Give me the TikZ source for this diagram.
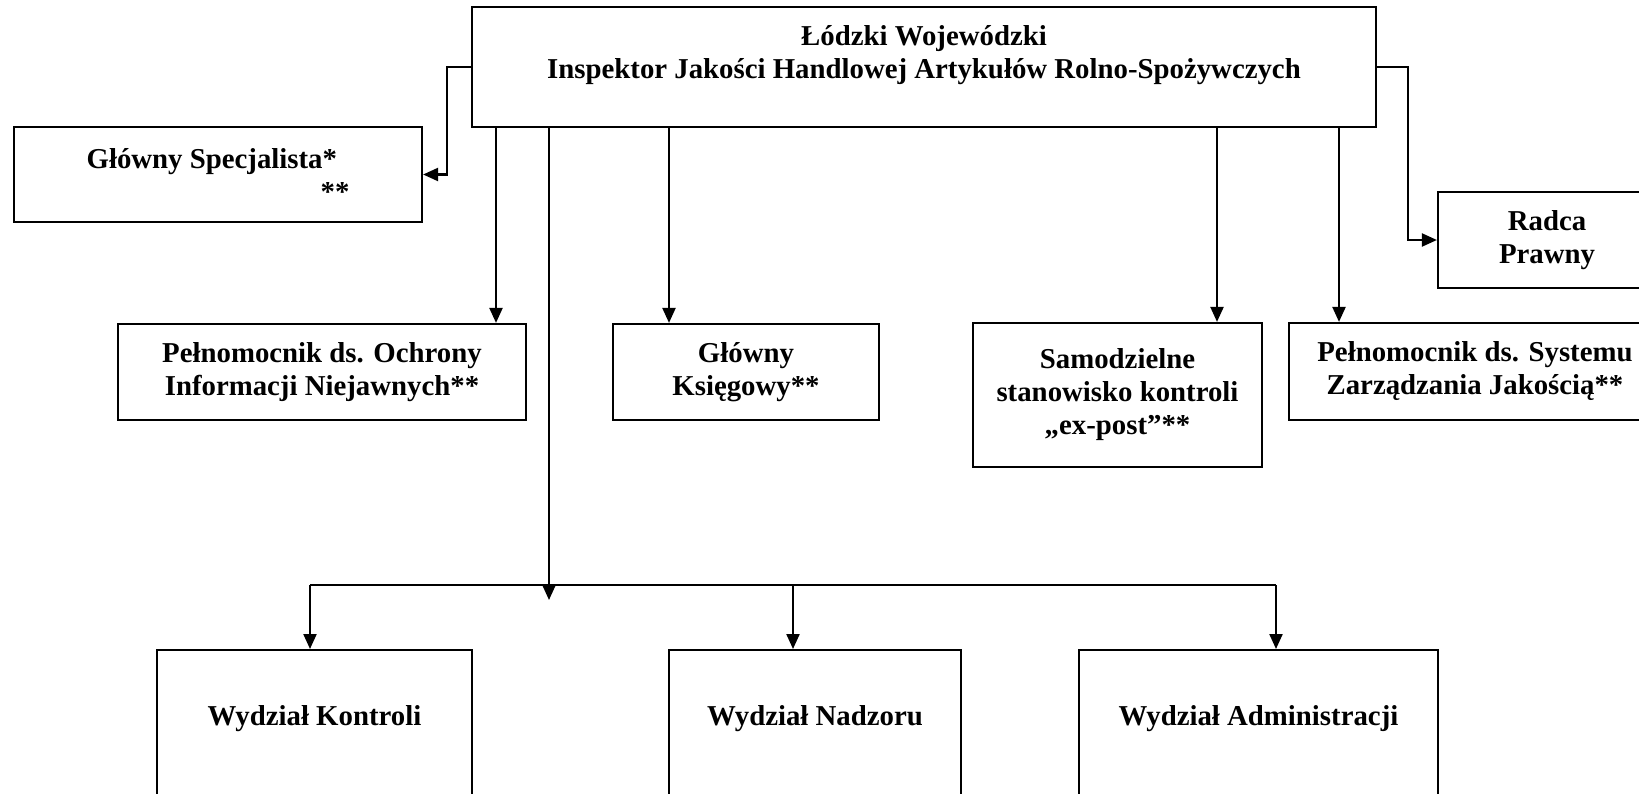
\documentclass[tikz,border=0pt]{standalone}
\usepackage{fontspec}
\setmainfont{Liberation Serif}
\usepackage{tikz}
\usetikzlibrary{arrows.meta}
\tikzset{
	unit/.style = {align=center, inner sep=0pt, font=\fontsize{14.4}{16.5}\selectfont\bfseries},
	post/.style = {unit, rectangle, draw=black, line width=1.1pt},
	dept/.style = {post, anchor=north, text height=37.5pt, text depth=52.5pt},
	link/.style = {line width=1.1pt},
	sub/.style = {link, -{Triangle[length=7.5pt, width=6.5pt]}}
}

\begin{document}
\begin{tikzpicture}[x=0.5pt, y=-0.5pt]
\useasboundingbox (0,0) rectangle (1639,793);
\clip (0,0) rectangle (1639,793);
\node [post, minimum width=452pt, minimum height=60pt] (inspektor) at (924,67) {Łódzki Wojewódzki\\Inspektor Jakości Handlowej Artykułów Rolno-Spożywczych\\[-6pt]\strut};
\node [post, align=left, minimum width=204pt, minimum height=47.5pt] (specjalista) at (218,174.5) {Główny Specjalista*\\\hspace*{117pt}**};
\node [post, minimum width=109pt, minimum height=48pt] (radca) at (1547,240) {Radca\\Prawny};
\node [post, minimum width=204pt, minimum height=48pt] (ochrona) at (322,372) {Pełnomocnik ds. Ochrony\\Informacji Niejawnych**};
\node [post, minimum width=133pt, minimum height=48pt] (ksiegowy) at (746,372) {Główny\\Księgowy**};
\node [post, minimum width=144.5pt, minimum height=72pt] (expost) at (1117.5,395) {Samodzielne\\stanowisko kontroli\\„ex-post”**};
\node [post, minimum width=186pt, minimum height=48.5pt] (jakosc) at (1475,371.5) {Pełnomocnik ds. Systemu\\Zarządzania Jakością**};
\node [dept, minimum width=157.5pt] (kontrola) at (314.5,649) {Wydział Kontroli};
\node [dept, minimum width=146pt] (nadzor) at (815,649) {Wydział Nadzoru};
\node [dept, minimum width=179.5pt] (administracja) at (1258.5,649) {Wydział Administracji};

\coordinate (hub) at (549,585);
\coordinate (busK) at (310,585);
\coordinate (busN) at (793,585);
\coordinate (busA) at (1276,585);

\draw [sub] (inspektor.west) -- ++(-24,0) |- (specjalista.east);
\draw [sub] (inspektor.east) -- ++(31,0) |- (radca.west);
\draw [sub] (inspektor.south -| 496,0) -- (ochrona.north -| 496,0);
\draw [sub] (inspektor.south -| 669,0) -- (ksiegowy.north -| 669,0);
\draw [sub] (inspektor.south -| 1217,0) -- (expost.north -| 1217,0);
\draw [sub] (inspektor.south -| 1339,0) -- (jakosc.north -| 1339,0);
\draw [link] (busK) -- (busA);
\draw [sub] (inspektor.south -| hub) -- (hub) -- ++(0,15);
\draw [sub] (busK) -- (busK |- kontrola.north);
\draw [sub] (busN) -- (busN |- nadzor.north);
\draw [sub] (busA) -- (busA |- administracja.north);
\end{tikzpicture}
\end{document}
